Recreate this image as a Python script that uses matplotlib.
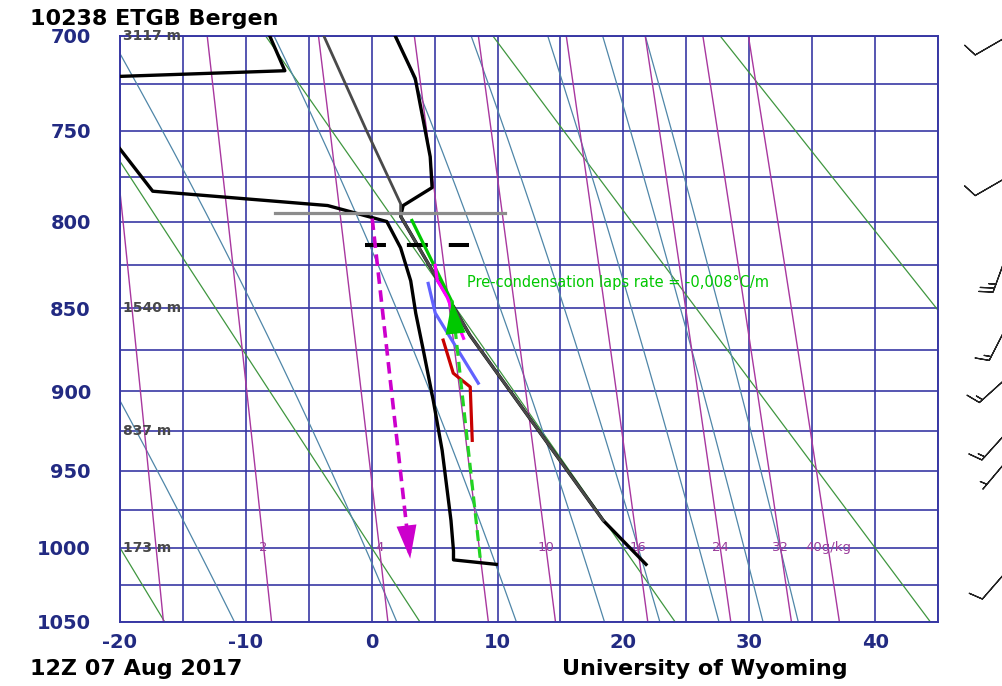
import numpy as np
import matplotlib.pyplot as plt
from matplotlib.ticker import NullLocator

KAPPA = 0.286

# sounding 10238 ETGB Bergen
temp_p = [1011, 982, 937, 866, 797, 791, 781, 764, 750, 736, 722, 700]
temp_t = [21.8, 18.4, 14.4, 7.8, 2.3, 2.5, 4.8, 4.65, 4.26, 3.86, 3.46, 1.87]
dewp_p = [1011, 1008, 1002, 982, 937, 906, 875, 853, 834, 815, 800, 791, 783, 758, 745, 723, 721, 718, 700]
dewp_t = [9.9, 6.5, 6.5, 6.3, 5.6, 4.9, 4.1, 3.5, 3.1, 2.3, 1.2, -3.5, -17.4, -20.2, -32.0, -32.0, -20.2, -6.9, -8.1]
# thinner grey path (lower part runs along the temperature curve)
parcel_p = [982, 937, 866, 797, 790, 750, 700]
parcel_t = [18.4, 14.4, 7.8, 2.3, 2.3, -0.4, -3.8]

# wind barbs (right margin)
barb_p = [701, 776, 822, 863, 893, 927, 945, 1017]
barb_dir = [240, 240, 200, 207, 228, 222, 220, 221]
barb_spd = [10, 10, 25, 15, 15, 15, 5, 10]

# diagram background lines
theta_lines = [-20, 0, 20, 40, 60]                 # dry adiabats, theta in C
mixr_lines = [1, 2, 4, 7, 10, 16, 24, 32, 40]      # g/kg
mixr_labels = [2, 4, 10, 16, 24, 32, 40]
moist_start = [-10.9, 2.0, 11.5, 18.5, 22.9, 27.6, 31.1, 33.9]  # T at 1050 hPa
height_labels = {700: '3117 m', 850: '1540 m', 925: '837 m', 1000: '173 m'}

# hand-drawn annotations
grey_p, grey_t = [795.4, 795.4], [-7.7, 10.6]
dash_p, dash_t = [813.6, 813.6], [-0.5, 7.7]
mag_arrow_p, mag_arrow_t = [798.3, 1007.2], [0.04, 3.06]
grn_line_p, grn_line_t = [799.4, 846.3], [3.2, 6.38]
mag_line_p, mag_line_t = [825, 833.7, 843.6, 867.9], [5.05, 5.21, 6.0, 7.3]
blue_line_p, blue_line_t = [835.5, 852.9, 895.1], [4.49, 5.05, 8.47]
red_line_p, red_line_t = [869, 889, 897.4, 930.6], [5.68, 6.48, 7.83, 7.99]
grn_arrow_p, grn_arrow_t = [1006.6, 845.5], [8.62, 6.38]

GRID = '#3838a4'
NAVY = '#222a82'
DRY = '#3f963f'
MOIST = '#4f86a8'
MIXR = '#a8379f'

Rd, cp, Lv = 287.04, 1005.7, 2.501e6


def sat_mixr(t_k, p):
    es = 6.112 * np.exp(17.67 * (t_k - 273.15) / (t_k - 29.65))
    return 0.622 * es / (p - es)


def dtdp(t_k, p):
    rs = sat_mixr(t_k, p)
    num = (Rd * t_k + Lv * rs) / p
    den = cp + Lv * Lv * rs * 0.622 / (Rd * t_k * t_k)
    return num / den


def moist_adiabat(t0, levels):
    t = t0 + 273.15
    out = [t]
    for p0, p1 in zip(levels[:-1], levels[1:]):
        dp = p1 - p0
        k1 = dtdp(t, p0)
        k2 = dtdp(t + k1 * dp, p1)
        t = t + 0.5 * (k1 + k2) * dp
        out.append(t)
    return np.array(out) - 273.15


def mixr_temp(w, p):
    e = w / 1000 * p / (0.622 + w / 1000)
    a = np.log(e / 6.112)
    return 243.5 * a / (17.67 - a)


fig = plt.figure(figsize=(10.02, 6.86), dpi=100)
ax = fig.add_axes([120 / 1002, 1 - 622 / 686, (938 - 120) / 1002, (622 - 36) / 686])
ax.set_yscale('function', functions=(lambda p: np.power(p, KAPPA), lambda y: np.power(y, 1 / KAPPA)))
ax.set_xlim(-20, 45)
ax.set_ylim(1050, 700)

levels = np.linspace(1050, 700, 351)

for t in range(-20, 46, 5):
    ax.axvline(t, color=GRID, lw=1.2, zorder=1)
for p in range(700, 1051, 25):
    ax.axhline(p, color=GRID, lw=1.2, zorder=1)

for th in theta_lines:
    ax.plot((th + 273.15) * (levels / 1000) ** KAPPA - 273.15, levels, color=DRY, lw=0.9, zorder=2)
for t0 in moist_start:
    ax.plot(moist_adiabat(t0, levels), levels, color=MOIST, lw=0.9, zorder=2)
for w in mixr_lines:
    ax.plot(mixr_temp(w, levels), levels, color=MIXR, lw=1.0, zorder=2)
for w in mixr_labels:
    lab = '40g/kg' if w == 40 else str(w)
    ax.text(mixr_temp(w, 1000), 1000, lab, color='#9b3d9b', fontsize=9.5,
            ha='center', va='center', zorder=3)
for p, lab in height_labels.items():
    ax.text(-19.75, p, lab, color='#484848', fontsize=10, fontweight='bold',
            ha='left', va='center', zorder=3)

# sounding
ax.plot(temp_t, temp_p, color='black', lw=2.4, zorder=4)
ax.plot(dewp_t, dewp_p, color='black', lw=2.4, zorder=4)
ax.plot(parcel_t, parcel_p, color='#4a4a4a', lw=2.0, zorder=4)

# annotations
ax.plot(grey_t, grey_p, color='#8c8c8c', lw=2.3, zorder=5)
ax.plot(dash_t, dash_p, color='black', lw=2.9, dashes=(5.2, 5.2), zorder=5)
ax.plot(grn_line_t, grn_line_p, color='#00c800', lw=2.3, zorder=6)
ax.plot(mag_line_t, mag_line_p, color='#ff00ff', lw=2.3, zorder=6)
ax.plot(blue_line_t, blue_line_p, color='#6262ff', lw=2.3, zorder=6)
ax.plot(red_line_t, red_line_p, color='#c80000', lw=2.3, zorder=6)
ax.plot(mag_arrow_t, mag_arrow_p, color='#cc00cc', lw=2.6, dashes=(3.2, 1.8), zorder=6)
ax.plot(grn_arrow_t, grn_arrow_p, color='#22d422', lw=2.3, dashes=(3.4, 1.9), zorder=6)
head = '-|>,head_length=1.2,head_width=0.36'
ax.annotate('', xy=(mag_arrow_t[1], mag_arrow_p[1]), xytext=(mag_arrow_t[0], mag_arrow_p[0]),
            arrowprops=dict(arrowstyle=head, mutation_scale=20, color='#cc00cc', lw=0,
                            shrinkA=0, shrinkB=0), zorder=7)
ax.annotate('', xy=(grn_arrow_t[1], grn_arrow_p[1]), xytext=(grn_arrow_t[0], grn_arrow_p[0]),
            arrowprops=dict(arrowstyle=head, mutation_scale=20, color='#00c800', lw=0,
                            shrinkA=0, shrinkB=0), zorder=7)
ax.text(7.6, 834.9, 'Pre-condensation laps rate = -0,008°C/m', color='#00c800',
        fontsize=10.5, ha='left', va='center', zorder=7)

# wind barbs outside the frame
rad = np.deg2rad(barb_dir)
u = -np.array(barb_spd) * np.sin(rad)
v = -np.array(barb_spd) * np.cos(rad)
ax.barbs(np.full(len(barb_p), 50.3), barb_p, u, v, length=7, color='#222222',
         linewidth=0.9, clip_on=False, zorder=3)

ax.set_xticks([-20, -10, 0, 10, 20, 30, 40])
ax.set_xticklabels(['-20', '-10', '0', '10', '20', '30', '40'])
ax.set_yticks(list(range(700, 1051, 50)))
ax.set_yticklabels([str(p) for p in range(700, 1051, 50)])
ax.yaxis.set_minor_locator(NullLocator())
ax.xaxis.set_minor_locator(NullLocator())
ax.tick_params(length=0, labelcolor=NAVY, labelsize=14)
ax.tick_params(axis='x', pad=8)
ax.tick_params(axis='y', pad=21)
for lbl in ax.get_xticklabels() + ax.get_yticklabels():
    lbl.set_fontweight('bold')
for s in ax.spines.values():
    s.set_color(GRID)
    s.set_linewidth(1.4)

fig.text(30 / 1002, 1 - 25 / 686, '10238 ETGB Bergen', fontsize=16, fontweight='bold',
         ha='left', va='baseline')
fig.text(30 / 1002, 1 - 675 / 686, '12Z 07 Aug 2017', fontsize=16, fontweight='bold',
         ha='left', va='baseline')
fig.text(562 / 1002, 1 - 675 / 686, 'University of Wyoming', fontsize=16, fontweight='bold',
         ha='left', va='baseline')

fig.savefig('out.png', dpi=100)
